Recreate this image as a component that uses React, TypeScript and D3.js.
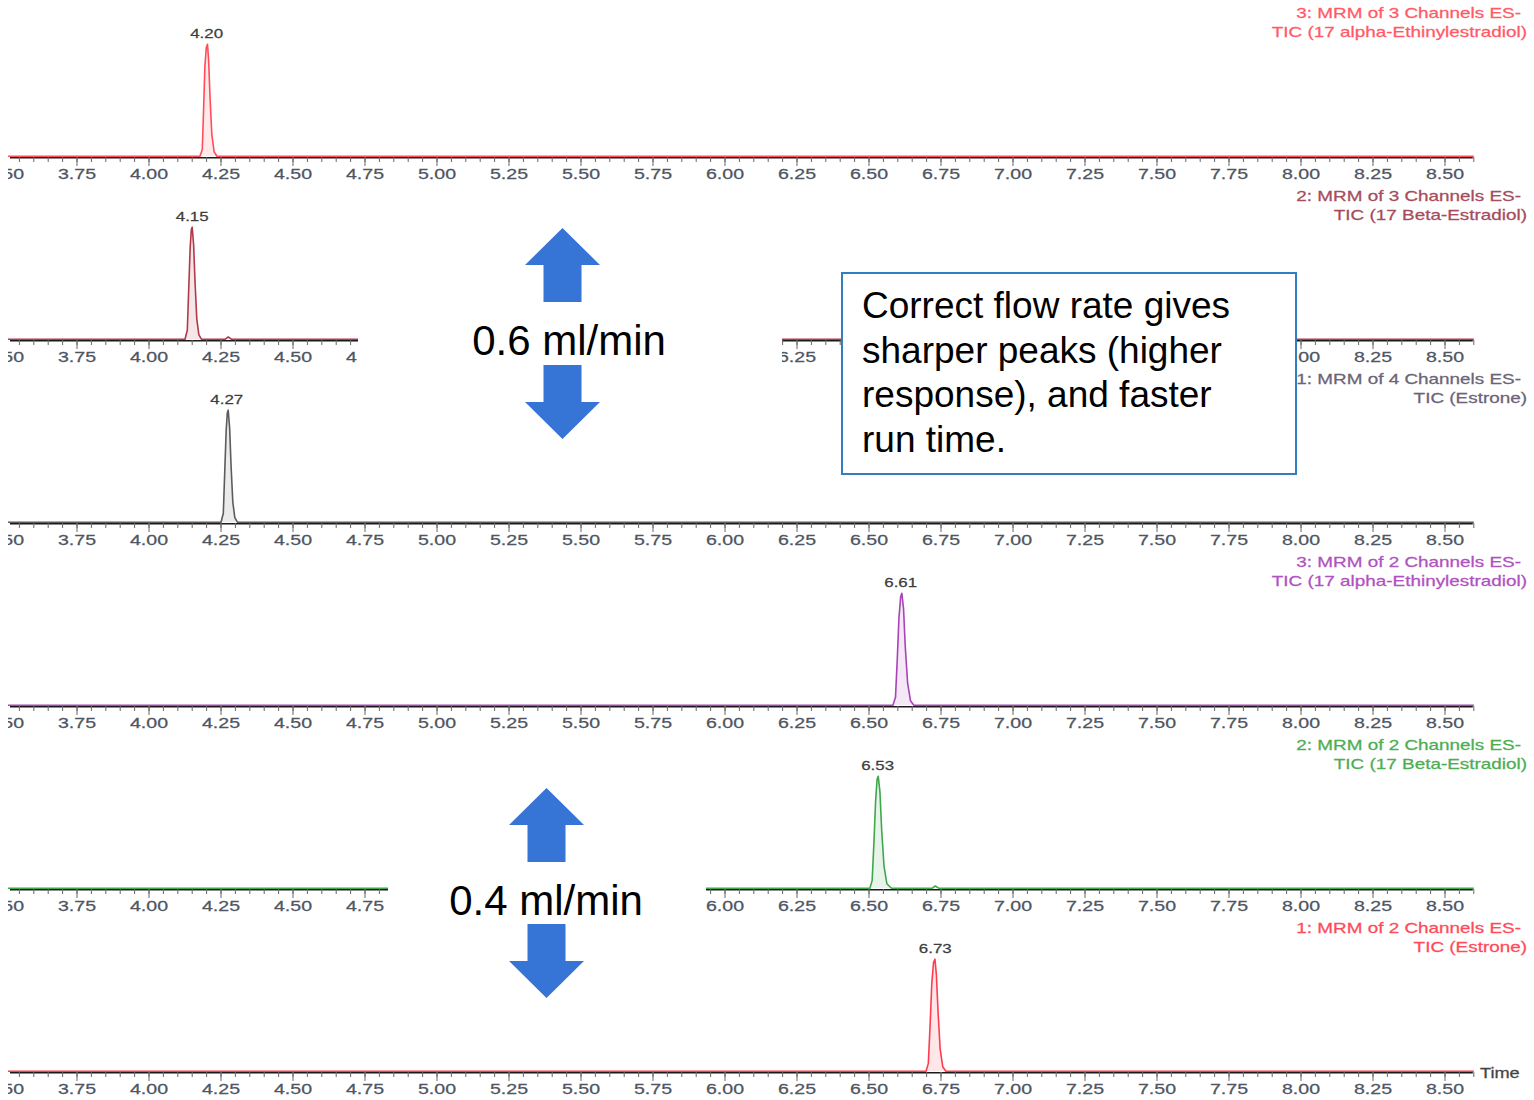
import React from "react";
import * as d3 from "d3";

// ---------- data ----------
const timeDomain = [3.5, 8.6];
const majorTicks = [3.5, 3.75, 4.0, 4.25, 4.5, 4.75, 5.0, 5.25, 5.5, 5.75, 6.0, 6.25, 6.5, 6.75, 7.0, 7.25, 7.5, 7.75, 8.0, 8.25, 8.5];
const minorStep = 0.05;

const peakTimes = [4.2, 4.15, 4.27, 6.61, 6.53, 6.73];
const peakLabels = ["4.20", "4.15", "4.27", "6.61", "6.53", "6.73"];

const legendLine1 = [
  "3: MRM of 3 Channels ES-",
  "2: MRM of 3 Channels ES-",
  "1: MRM of 4 Channels ES-",
  "3: MRM of 2 Channels ES-",
  "2: MRM of 2 Channels ES-",
  "1: MRM of 2 Channels ES-",
];
const legendLine2 = [
  "TIC (17 alpha-Ethinylestradiol)",
  "TIC (17 Beta-Estradiol)",
  "TIC (Estrone)",
  "TIC (17 alpha-Ethinylestradiol)",
  "TIC (17 Beta-Estradiol)",
  "TIC (Estrone)",
];

// [time (min), relative intensity %]
const trace1: [number, number][] = [[3.5, 0], [4.177, 0], [4.185, 6], [4.19, 45], [4.194, 80], [4.199, 97], [4.203, 100], [4.207, 86], [4.212, 52], [4.218, 20], [4.226, 4], [4.236, 0], [8.6, 0]];
const trace2: [number, number][] = [[3.5, 0], [4.125, 0], [4.133, 8], [4.138, 45], [4.143, 82], [4.147, 98], [4.15, 100], [4.155, 84], [4.16, 50], [4.166, 18], [4.173, 4], [4.182, 0], [4.265, 0], [4.275, 2], [4.286, 0], [8.6, 0]];
const trace3: [number, number][] = [[3.5, 0], [4.25, 0], [4.258, 8], [4.263, 45], [4.268, 82], [4.272, 98], [4.275, 100], [4.28, 84], [4.285, 50], [4.291, 18], [4.298, 4], [4.307, 0], [8.6, 0]];
const trace4: [number, number][] = [[3.5, 0], [6.583, 0], [6.592, 7], [6.598, 40], [6.604, 78], [6.61, 97], [6.614, 100], [6.62, 86], [6.626, 52], [6.634, 20], [6.644, 4], [6.656, 0], [8.6, 0]];
const trace5: [number, number][] = [[3.5, 0], [6.503, 0], [6.511, 7], [6.517, 40], [6.523, 78], [6.528, 97], [6.532, 100], [6.538, 86], [6.544, 52], [6.552, 20], [6.562, 4], [6.578, 0], [6.72, 0], [6.73, 2], [6.742, 0], [8.6, 0]];
const trace6: [number, number][] = [[3.5, 0], [6.698, 0], [6.706, 7], [6.712, 40], [6.718, 78], [6.724, 97], [6.729, 100], [6.734, 86], [6.74, 52], [6.747, 20], [6.756, 4], [6.767, 0], [8.6, 0]];
const traces = [trace1, trace2, trace3, trace4, trace5, trace6];

const traceColors = ["#ff4d5a", "#b03a48", "#5c5c5c", "#a944b8", "#3fa84a", "#ff3b4e"];
const legendColors = ["#ff5a66", "#a64c5c", "#6b6478", "#b052c0", "#4cae52", "#ff4a5a"];

const flowLabels = ["0.6 ml/min", "0.4 ml/min"];
const noteLines = ["Correct flow rate gives", "sharper peaks (higher", "response), and faster", "run time."];

// ---------- layout ----------
const W = 1534;
const H = 1100;
const firstBaseline = 157;
const panelStep = 183;
const peakHeight = 112;
const SX = 1.35; // horizontal stretch of the screenshot text
const tickColor = "#4f5562";
const arrowColor = "#3674d5";
const FONT = "'Liberation Sans', Arial, sans-serif";

// white boxes of the overlaid labels, per panel: [x0, x1, drawWhite]
const masks: [number, number, boolean][][] = [[], [[358, 782, true], [842, 1296, false]], [], [], [[388, 706, true]], []];

const x = d3.scaleLinear().domain(timeDomain).range([5, 5 + (timeDomain[1] - timeDomain[0]) * 288]);

function SText(props: { x: number; y: number; anchor?: string; size: number; fill: string; children: any; sx?: number; sw?: number }) {
  const s = props.sx ?? SX;
  return (
    <text
      transform={`translate(${props.x},${props.y}) scale(${s},1)`}
      textAnchor={props.anchor ?? "start"}
      fontSize={props.size}
      fill={props.fill}
      stroke={props.fill}
      strokeWidth={props.sw ?? 0.25}
      fontFamily={FONT}
    >
      {props.children}
    </text>
  );
}

function Panel({ i }: { i: number }) {
  const base = firstBaseline + i * panelStep;
  const y = d3.scaleLinear().domain([0, 100]).range([base - 0.8, base - 0.8 - peakHeight]);
  const line = d3.line<[number, number]>().x((d) => x(d[0])).y((d) => y(d[1]));
  const minor = d3.range(timeDomain[0], timeDomain[1] + 1e-6, minorStep);
  const apex = peakTimes[i];
  const ms = masks[i];
  const labelHalf = 18;
  const labelTicks = majorTicks.filter((t) => !ms.some((m) => x(t) - labelHalf >= m[0] && x(t) + labelHalf <= m[1]));
  return (
    <g>
      {/* axis */}
      <line x1={10} x2={x(timeDomain[1]) - 1} y1={base + 0.8} y2={base + 0.8} stroke="#1a1a1a" strokeWidth={1.6} />
      {minor.map((t, k) => (
        <line key={"m" + k} x1={x(t)} x2={x(t)} y1={base} y2={base + 5} stroke="#666" strokeWidth={1} />
      ))}
      {majorTicks.map((t) => (
        <line key={"M" + t} x1={x(t)} x2={x(t)} y1={base} y2={base + 9} stroke="#666" strokeWidth={1} />
      ))}
      {labelTicks.map((t) => (
        <SText key={"L" + t} x={x(t)} y={base + 22} anchor="middle" size={14.5} fill={tickColor}>
          {t.toFixed(2)}
        </SText>
      ))}
      {/* trace */}
      <path d={line(traces[i]) as string} fill={traceColors[i]} fillOpacity={0.12} stroke={traceColors[i]} strokeWidth={1.6} strokeLinejoin="round" />
      {/* peak label */}
      <SText x={x(apex)} y={y(100) - 6} anchor="middle" size={13.5} fill="#3d3d3d" sx={1.25}>
        {peakLabels[i]}
      </SText>
      {/* legend */}
      <SText x={1521} y={base - 139} anchor="end" size={14} fill={legendColors[i]}>
        {legendLine1[i]}
      </SText>
      <SText x={1527} y={base - 120} anchor="end" size={14} fill={legendColors[i]}>
        {legendLine2[i]}
      </SText>
      {ms
        .filter((m) => m[2])
        .map((m, k) => (
          <rect key={"w" + k} x={m[0]} y={base - 22} width={m[1] - m[0]} height={55} fill="#fff" />
        ))}
    </g>
  );
}

function Arrow({ cx, tipY, dir }: { cx: number; tipY: number; dir: 1 | -1 }) {
  const headW = 37.5;
  const shaftW = 19;
  const headH = 37;
  const shaftH = 37;
  const s = -dir;
  const pts = [
    [cx, tipY],
    [cx + headW, tipY + s * headH],
    [cx + shaftW, tipY + s * headH],
    [cx + shaftW, tipY + s * (headH + shaftH)],
    [cx - shaftW, tipY + s * (headH + shaftH)],
    [cx - shaftW, tipY + s * headH],
    [cx - headW, tipY + s * headH],
  ];
  return <polygon points={pts.map((p) => p.join(",")).join(" ")} fill={arrowColor} />;
}

export default function App() {
  return (
    <svg width={W} height={H} style={{ position: "absolute", left: 0, top: 0, background: "#fff" }}>
      <defs>
        <clipPath id="view">
          <rect x={8} y={0} width={W - 8} height={H} />
        </clipPath>
      </defs>
      <rect x={0} y={0} width={W} height={H} fill="#fff" />
      <g clipPath="url(#view)">
        {traces.map((_, i) => (
          <Panel key={i} i={i} />
        ))}
      </g>
      <SText x={1480} y={1078} size={14} fill="#444" sx={1.3}>
        Time
      </SText>

      {/* 0.6 ml/min group */}
      <Arrow cx={562.5} tipY={228} dir={-1} />
      <Arrow cx={562.5} tipY={439} dir={1} />
      <text x={569} y={355} textAnchor="middle" fontSize={42} fontFamily={FONT} fill="#000">
        {flowLabels[0]}
      </text>

      {/* 0.4 ml/min group */}
      <Arrow cx={546.5} tipY={788} dir={-1} />
      <Arrow cx={546.5} tipY={998} dir={1} />
      <text x={546} y={915} textAnchor="middle" fontSize={42} fontFamily={FONT} fill="#000">
        {flowLabels[1]}
      </text>

      {/* note box */}
      <rect x={842} y={273} width={454} height={201} fill="#fff" stroke="#2f7fc1" strokeWidth={2} />
      {noteLines.map((l, k) => (
        <text key={k} x={862} y={318 + k * 44.7} fontSize={37} fontFamily={FONT} fill="#000">
          {l}
        </text>
      ))}
    </svg>
  );
}
